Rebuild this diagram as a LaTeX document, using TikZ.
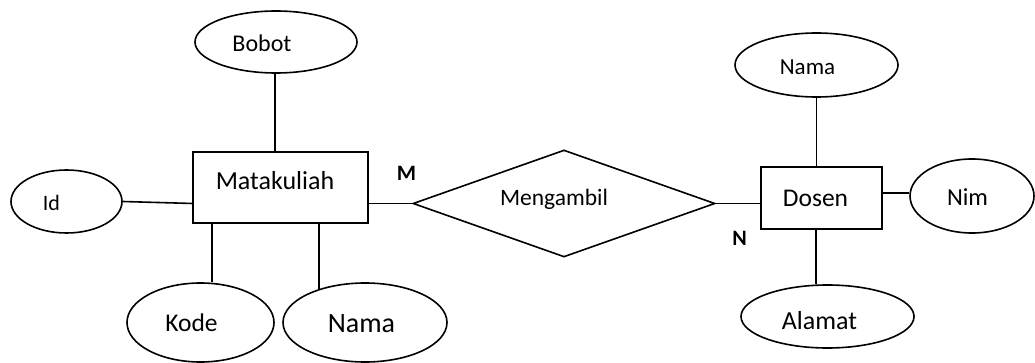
\documentclass[tikz,border=0pt]{standalone}
\usepackage{fontspec}
\setmainfont{Carlito}
\usetikzlibrary{shapes.geometric,calc}
\begin{document}
\begin{tikzpicture}[x=1pt,y=-1pt,
  every path/.style={line width=1.6pt},
  attr/.style={draw,ellipse,inner sep=0pt},
  entity/.style={draw,rectangle,inner sep=0pt},
  rel/.style={draw,diamond,inner sep=0pt},
  lbl/.style={inner sep=0pt,anchor=center},
  card/.style={inner sep=0pt,font=\fontsize{22}{22}\selectfont\bfseries}]
\fill[white] (0,0) rectangle (1035,363);
\useasboundingbox (0,0) rectangle (1035,363);

% entities
\node[entity,minimum width=175pt,minimum height=71pt] (mk) at (280.5,187.5) {};
\node[lbl,font=\fontsize{26}{26}\selectfont] (mkt) at (275,181) {Matakuliah};
\node[entity,minimum width=121pt,minimum height=62pt] (dosen) at (821.5,198) {};
\node[lbl,font=\fontsize{25.5}{25.5}\selectfont] (dosent) at (815.5,198) {Dosen};

% relationship
\node[rel,minimum width=302pt,minimum height=107pt] (ambil) at (564,203.5) {};
\node[lbl,font=\fontsize{23.5}{23.5}\selectfont] (ambilt) at (554,199) {Mengambil};

% attributes of Matakuliah
\node[attr,minimum width=162pt,minimum height=62pt] (bobot) at (276,42) {};
\node[lbl,font=\fontsize{24}{24}\selectfont] (bobott) at (262,43) {Bobot};
\node[attr,minimum width=111pt,minimum height=63pt] (id) at (66.5,201.5) {};
\node[lbl,font=\fontsize{22}{22}\selectfont] (idt) at (51.5,203) {Id};
\node[attr,minimum width=147pt,minimum height=79pt] (kode) at (200.5,322.5) {};
\node[lbl,font=\fontsize{25.5}{25.5}\selectfont] (kodet) at (191.5,323) {Kode};
\node[attr,minimum width=164pt,minimum height=79pt] (nama1) at (365,322.5) {};
\node[lbl,font=\fontsize{28}{28}\selectfont] (nama1t) at (361.5,324) {Nama};

% attributes of Dosen
\node[attr,minimum width=163pt,minimum height=64pt] (nama2) at (816.5,65) {};
\node[lbl,font=\fontsize{23}{23}\selectfont] (nama2t) at (807.5,67) {Nama};
\node[attr,minimum width=124pt,minimum height=74pt] (nim) at (972,196) {};
\node[lbl,font=\fontsize{24.5}{24.5}\selectfont] (nimt) at (967.5,197) {Nim};
\node[attr,minimum width=173pt,minimum height=63pt] (alamat) at (827.5,316.5) {};
\node[lbl,font=\fontsize{26}{26}\selectfont] (alamatt) at (819.5,321) {Alamat};

% cardinalities
\node[card] (m) at (406.5,173) {M};
\node[card] (n) at (739.5,238) {N};

% connectors
\draw (bobot.south) ++(-1,0) coordinate (b1) -- (b1 |- mk.north);
\draw (id.east) -- ($(mk.south west)!0.28!(mk.north west)$);
\draw (mk.south west) ++(20,0) coordinate (k1) -- (k1 |- kode.north);
\draw (nama1.144.6) -- (nama1.144.6 |- mk.south);
\draw (ambil.west) -- (ambil.west -| mk.east);
\draw (ambil.east) -- (ambil.east -| dosen.west);
\draw (nama2.south) -- (nama2.south |- dosen.north);
\draw (nim.west) ++(0,-3) coordinate (n1) -- (n1 -| dosen.east);
\draw (dosen.south) ++(-5.5,0) coordinate (a1) -- (a1 |- alamat.north);
\end{tikzpicture}
\end{document}
